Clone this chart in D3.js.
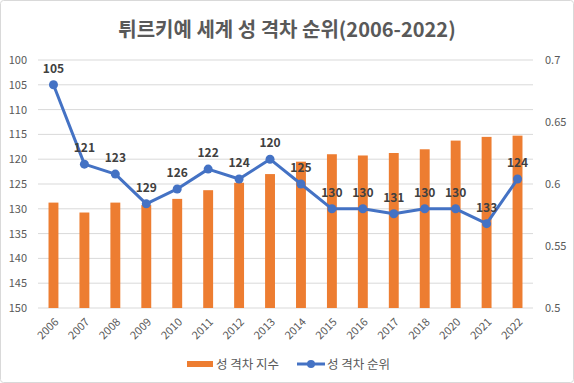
<!DOCTYPE html>
<html>
<head>
<meta charset="utf-8">
<script src="https://cdn.jsdelivr.net/npm/d3@7"></script>
<style>
html,body{margin:0;padding:0;background:#fff;}
svg{display:block;}
</style>
</head>
<body>
<svg id="chart" width="574" height="383"></svg>
<script>
const years = ["2006","2007","2008","2009","2010","2011","2012","2013","2014","2015","2016","2017","2018","2020","2021","2022"];
const gapIndex = [0.585,0.577,0.585,0.583,0.588,0.595,0.601,0.608,0.618,0.624,0.623,0.625,0.628,0.635,0.638,0.639];
const gapRank = [105,121,123,129,126,122,124,120,125,130,130,131,130,130,133,124];
const leftTicks = [100,105,110,115,120,125,130,135,140,145,150];
const rightTicks = [0.5,0.55,0.6,0.65,0.7];
const title = "튀르키예 세계 성 격차 순위(2006-2022)";
const seriesNames = ["성 격차 지수","성 격차 순위"];

const W = 574, H = 383;
const m = {left:38, right:41, top:60, bottom:75};
const FONT = "'Noto Sans CJK KR','Noto Sans',sans-serif";
const svg = d3.select("#chart");

svg.append("rect").attr("x",0.5).attr("y",0.5).attr("width",W-1).attr("height",H-1)
  .attr("rx",3).attr("fill","#fff").attr("stroke","#d9d9d9");

const x = d3.scaleBand().domain(years).range([m.left, W-m.right]).paddingInner(0.68).paddingOuter(0.34);
const yL = d3.scaleLinear().domain([100,150]).range([m.top, H-m.bottom]);
const yR = d3.scaleLinear().domain([0.5,0.7]).range([H-m.bottom, m.top]);

// gridlines
svg.append("g").selectAll("line").data(leftTicks).join("line")
  .attr("x1",m.left).attr("x2",W-m.right)
  .attr("y1",d=>yL(d)).attr("y2",d=>yL(d))
  .attr("stroke","#d9d9d9").attr("stroke-width",1);

// left axis
const axL = svg.append("g").attr("transform",`translate(${m.left},0)`)
  .call(d3.axisLeft(yL).tickValues(leftTicks).tickSize(0).tickPadding(11));
axL.select(".domain").remove();
axL.selectAll("text").attr("font-family",FONT).attr("font-size",11).attr("fill","#595959");

// right axis
const axR = svg.append("g").attr("transform",`translate(${W-m.right},0)`)
  .call(d3.axisRight(yR).tickValues(rightTicks).tickSize(0).tickPadding(12).tickFormat(d=>String(+d.toFixed(2))));
axR.select(".domain").remove();
axR.selectAll("text").attr("font-family",FONT).attr("font-size",11).attr("fill","#595959");

// x axis
const axX = svg.append("g").attr("transform",`translate(0,${H-m.bottom})`)
  .call(d3.axisBottom(x).tickSize(0).tickPadding(0));
axX.select(".domain").remove();
axX.selectAll("text")
  .attr("font-family",FONT).attr("font-size",11).attr("fill","#595959")
  .attr("text-anchor","end").attr("dy","0.35em")
  .attr("transform","translate(3,12) rotate(-45)");

// bars
svg.append("g").selectAll("rect").data(years).join("rect")
  .attr("x",d=>x(d)).attr("width",x.bandwidth())
  .attr("y",(d,i)=>yR(gapIndex[i]))
  .attr("height",(d,i)=>yR(0.5)-yR(gapIndex[i]))
  .attr("fill","#ED7D31");

// line
const cx = d => x(d)+x.bandwidth()/2;
const line = d3.line().x((d,i)=>cx(years[i])).y(d=>yL(d));
svg.append("path").datum(gapRank).attr("d",line)
  .attr("fill","none").attr("stroke","#4472C4").attr("stroke-width",3).attr("stroke-linejoin","round");
svg.append("g").selectAll("circle").data(gapRank).join("circle")
  .attr("cx",(d,i)=>cx(years[i])).attr("cy",d=>yL(d)).attr("r",4.5).attr("fill","#4472C4");
svg.append("g").selectAll("text").data(gapRank).join("text")
  .attr("x",(d,i)=>cx(years[i])).attr("y",d=>yL(d)-12)
  .attr("text-anchor","middle").attr("font-family",FONT).attr("font-size",12)
  .attr("font-weight","bold").attr("fill","#404040").text(d=>d);

// title
svg.append("text").attr("x",287).attr("y",37).attr("text-anchor","middle")
  .attr("font-family",FONT).attr("font-size",20).attr("font-weight","bold")
  .attr("fill","#595959").text(title);

// legend
const lg = svg.append("g");
lg.append("rect").attr("x",187).attr("y",361).attr("width",26).attr("height",6).attr("fill","#ED7D31");
lg.append("text").attr("x",216).attr("y",368.5).attr("font-family",FONT).attr("font-size",12.5)
  .attr("fill","#595959").text(seriesNames[0]);
lg.append("line").attr("x1",297).attr("x2",325).attr("y1",364).attr("y2",364)
  .attr("stroke","#4472C4").attr("stroke-width",3);
lg.append("circle").attr("cx",311).attr("cy",364).attr("r",4).attr("fill","#4472C4");
lg.append("text").attr("x",327).attr("y",368.5).attr("font-family",FONT).attr("font-size",12.5)
  .attr("fill","#595959").text(seriesNames[1]);
</script>
</body>
</html>
